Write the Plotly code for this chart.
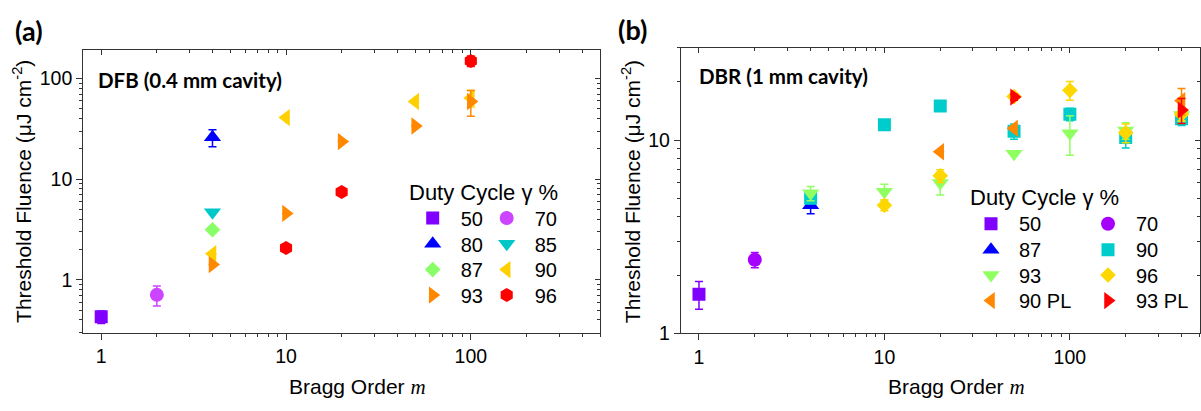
import plotly.graph_objects as go
import math

W, H = 1201, 411

# ---------------- data: panel (a) DFB ----------------
a_labels = ["50", "70", "80", "85", "87", "90", "93", "96"]
a50_x, a50_y, a50_e = [1], [0.43], [0.06]
a70_x, a70_y, a70_e = [2], [0.71], [0.16]
a80_x, a80_y, a80_e = [4], [26], [5]
a85_x, a85_y, a85_e = [4], [4.7], [0]
a87_x, a87_y, a87_e = [4], [3.15], [0]
a90_x, a90_y, a90_e = [4, 10, 50, 100], [1.82, 40.8, 59, 64], [0, 0, 0, 12]
a93_x, a93_y, a93_e = [4, 10, 20, 50, 100], [1.42, 4.57, 23.6, 33.7, 59], [0, 0, 0, 0, 17]
a96_x, a96_y, a96_e = [10, 20, 100], [2.07, 7.44, 149], [0, 0, 18]

# ---------------- data: panel (b) DBR ----------------
b_labels = ["50", "70", "87", "90", "93", "96", "90 PL", "93 PL"]
b50_x, b50_y, b50_e = [1], [1.59], [0.26]
b70_x, b70_y, b70_e = [2], [2.40], [0.22]
b87_x, b87_y, b87_e = [4], [4.6], [0.45]
b90_x = [4, 10, 20, 50, 100, 200, 400]
b90_y = [5.0, 12.0, 15.0, 11.1, 13.6, 10.3, 12.9]
b90_e = [0.3, 0, 0, 1.0, 1.0, 1.2, 1.0]
b93_x = [4, 10, 20, 50, 100, 200, 400]
b93_y = [5.3, 5.4, 6.0, 8.5, 10.85, 11.2, 13.5]
b93_e = [0.45, 0.5, 0.8, 0, 2.5, 1.1, 1.0]
b96_x = [10, 20, 50, 100, 200, 400]
b96_y = [4.6, 6.53, 16.8, 18.1, 10.9, 13.6]
b96_e = [0.3, 0.5, 0, 2.0, 1.2, 1.0]
b90pl_x, b90pl_y, b90pl_e = [20, 50, 400], [8.7, 11.5, 16.0], [0, 0, 2.5]
b93pl_x, b93pl_y, b93pl_e = [50, 400], [16.7, 14.3], [0.6, 2.1]

x_ticks = [1, 10, 100]
x_minor = [2, 3, 4, 5, 6, 7, 8, 9, 20, 30, 40, 50, 60, 70, 80, 90, 200, 300, 400, 500]
ya_ticks = [1, 10, 100]
ya_minor = [0.3, 0.4, 0.5, 0.6, 0.7, 0.8, 0.9, 2, 3, 4, 5, 6, 7, 8, 9, 20, 30, 40, 50, 60, 70, 80, 90]
yb_ticks = [1, 10]
yb_minor = [2, 3, 4, 5, 6, 7, 8, 9, 20, 30]

# ---------------- helpers ----------------
def px(x):
    return x / W

def py(y):
    return 1 - y / H

SANS = "Liberation Sans, Arial, sans-serif"
BOLD = "Lato"
AX = "#333333"
LEG_FONT = 20
ITEM_W = 46

fig = go.Figure()
legends = {}
_count = [0]

def add(x, y, e, name, color, symbol, size, xa, ya, leg_marker_x, leg_row_y):
    _count[0] += 1
    key = "legend" if _count[0] == 1 else "legend%d" % _count[0]
    h = LEG_FONT * 1.3 + 3
    legends[key] = dict(
        x=px(leg_marker_x - (ITEM_W + 10) / 2), y=py(leg_row_y - 5 - h / 2),
        xref="paper", yref="paper", xanchor="left", yanchor="top",
        bgcolor="rgba(0,0,0,0)", font=dict(family=SANS, size=LEG_FONT, color="black"),
        itemwidth=ITEM_W)
    fig.add_trace(go.Scatter(
        x=x, y=y, mode="markers", name=name,
        xaxis=xa, yaxis=ya, legend=key,
        marker=dict(color=color, symbol=symbol, size=size, line=dict(width=0)),
        error_y=dict(type="data", array=e, visible=True, color=color,
                     thickness=1.5, width=4),
    ))

# legend grid (marker centre x, row centre y)
ca1, ca2 = 432.7, 506.7
ra = [223.5, 250, 276.5, 302.7]
cb1, cb2 = 991, 1108
rb = [229.3, 256, 282, 308.3]

# panel (a)
add(a50_x, a50_y, a50_e, a_labels[0], "#8000FF", "square", 13, "x", "y", ca1, ra[0])
add(a70_x, a70_y, a70_e, a_labels[1], "#CC44FF", "circle", 14, "x", "y", ca2, ra[0])
add(a80_x, a80_y, a80_e, a_labels[2], "#0000FF", "triangle-up", 15, "x", "y", ca1, ra[1])
add(a85_x, a85_y, a85_e, a_labels[3], "#00C8C8", "triangle-down", 15, "x", "y", ca2, ra[1])
add(a87_x, a87_y, a87_e, a_labels[4], "#88FF66", "diamond", 12, "x", "y", ca1, ra[2])
add(a90_x, a90_y, a90_e, a_labels[5], "#FFD000", "triangle-left", 15, "x", "y", ca2, ra[2])
add(a93_x, a93_y, a93_e, a_labels[6], "#FF8800", "triangle-right", 15, "x", "y", ca1, ra[3])
add(a96_x, a96_y, a96_e, a_labels[7], "#FF0000", "hexagon", 14, "x", "y", ca2, ra[3])

# panel (b)
add(b50_x, b50_y, b50_e, b_labels[0], "#8000FF", "square", 13, "x2", "y2", cb1, rb[0])
add(b70_x, b70_y, b70_e, b_labels[1], "#A600FF", "circle", 14, "x2", "y2", cb2, rb[0])
add(b87_x, b87_y, b87_e, b_labels[2], "#0000FF", "triangle-up", 15, "x2", "y2", cb1, rb[1])
add(b90_x, b90_y, b90_e, b_labels[3], "#00CCCC", "square", 13, "x2", "y2", cb2, rb[1])
add(b93_x, b93_y, b93_e, b_labels[4], "#90FF60", "triangle-down", 15, "x2", "y2", cb1, rb[2])
add(b96_x, b96_y, b96_e, b_labels[5], "#FFD700", "diamond", 12, "x2", "y2", cb2, rb[2])
add(b90pl_x, b90pl_y, b90pl_e, b_labels[6], "#FF8800", "triangle-left", 15, "x2", "y2", cb1, rb[3])
add(b93pl_x, b93pl_y, b93pl_e, b_labels[7], "#FF0000", "triangle-right", 15, "x2", "y2", cb2, rb[3])

# empty traces so the mirrored (inside-tick) axes are drawn
for xa, ya in (("x3", "y3"), ("x4", "y4")):
    fig.add_trace(go.Scatter(x=[None], y=[None], xaxis=xa, yaxis=ya,
                             showlegend=False, hoverinfo="skip", mode="markers"))

XR = [math.log10(0.8), math.log10(500)]
YRA = [math.log10(0.3), math.log10(190)]
YRB = [0, math.log10(30)]

xdom_a = [px(83.3), px(600)]
xdom_b = [px(681), px(1199.5)]
ydom_a = [py(341.7), py(51.7)]
ydom_b = [py(342.3), py(49.3)]

tickfont = dict(family=SANS, size=19.5, color="black")

def main_axis(dom, rng, tv, mv, anchor):
    return dict(type="log", domain=dom, range=rng, anchor=anchor,
                showline=True, linecolor=AX, linewidth=1.3, mirror=True,
                ticks="outside", ticklen=6, tickwidth=1.3, tickcolor=AX,
                tickmode="array", tickvals=tv, ticktext=[str(v) for v in tv],
                tickfont=tickfont, showgrid=False, zeroline=False,
                minor=dict(ticks="outside", ticklen=3, tickwidth=1, tickcolor=AX,
                           tickmode="array", tickvals=mv, showgrid=False))

def inner_axis(dom, rng, tv, mv, anchor, overlay, side):
    return dict(type="log", domain=dom, range=rng, anchor=anchor,
                overlaying=overlay, side=side, showline=False,
                ticks="inside", ticklen=5, tickwidth=1.3, tickcolor=AX,
                tickmode="array", tickvals=tv, showticklabels=False,
                showgrid=False, zeroline=False,
                minor=dict(ticks="inside", ticklen=3, tickwidth=1, tickcolor=AX,
                           tickmode="array", tickvals=mv, showgrid=False))

ann_font = dict(family=SANS, size=21, color="black")
mtext = "Bragg Order <span style=\"font-family:'Liberation Serif'\"><i>m</i></span>"
ytext = "Threshold Fluence (μJ cm<sup>-2</sup>)"

annotations = [
    dict(text="<b>(a)</b>", x=px(13), y=py(31), xanchor="left", yanchor="middle",
         font=dict(family=BOLD, size=27, color="black")),
    dict(text="<b>(b)</b>", x=px(616), y=py(30), xanchor="left", yanchor="middle",
         font=dict(family=BOLD, size=27, color="black")),
    dict(text="<b>DFB (0.4 mm cavity)</b>", x=px(96), y=py(81.7), xanchor="left",
         yanchor="middle", font=dict(family=BOLD, size=20.5, color="black")),
    dict(text="<b>DBR (1 mm cavity)</b>", x=px(696.7), y=py(78.3), xanchor="left",
         yanchor="middle", font=dict(family=BOLD, size=20.5, color="black")),
    dict(text=mtext, x=px(357), y=py(397.3), xanchor="center", yanchor="middle", font=ann_font),
    dict(text=mtext, x=px(956.7), y=py(397.3), xanchor="center", yanchor="middle", font=ann_font),
    dict(text=ytext, x=px(22.5), y=py(196.7), textangle=-90, xanchor="center",
         yanchor="middle", font=ann_font),
    dict(text=ytext, x=px(631.7), y=py(196.7), textangle=-90, xanchor="center",
         yanchor="middle", font=ann_font),
    dict(text="Duty Cycle γ %", x=px(483.5), y=py(198.3), xanchor="center",
         yanchor="middle", font=dict(family=SANS, size=22, color="black")),
    dict(text="Duty Cycle γ %", x=px(1044.6), y=py(203.3), xanchor="center",
         yanchor="middle", font=dict(family=SANS, size=22, color="black")),
]
for a in annotations:
    a.update(xref="paper", yref="paper", showarrow=False)

fig.update_layout(
    width=W, height=H, margin=dict(l=0, r=0, t=0, b=0),
    paper_bgcolor="white", plot_bgcolor="white",
    xaxis=main_axis(xdom_a, XR, x_ticks, x_minor, "y"),
    yaxis=main_axis(ydom_a, YRA, ya_ticks, ya_minor, "x"),
    xaxis2=main_axis(xdom_b, XR, x_ticks, x_minor, "y2"),
    yaxis2=main_axis(ydom_b, YRB, yb_ticks, yb_minor, "x2"),
    xaxis3=inner_axis(xdom_a, XR, x_ticks, x_minor, "y", "x", "top"),
    yaxis3=inner_axis(ydom_a, YRA, ya_ticks, ya_minor, "x", "y", "right"),
    xaxis4=inner_axis(xdom_b, XR, x_ticks, x_minor, "y2", "x2", "top"),
    yaxis4=inner_axis(ydom_b, YRB, yb_ticks, yb_minor, "x2", "y2", "right"),
    annotations=annotations,
    showlegend=True,
    **legends,
)

fig.write_html("out.html")
